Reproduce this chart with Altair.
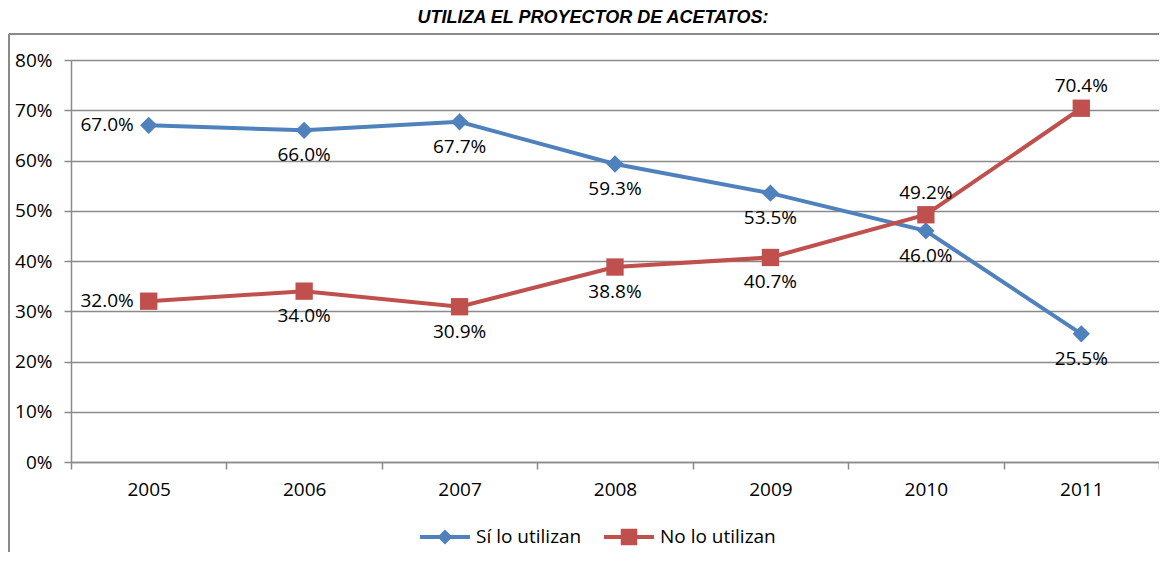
import altair as alt
import pandas as pd

years = ["2005", "2006", "2007", "2008", "2009", "2010", "2011"]
si_values = [67.0, 66.0, 67.7, 59.3, 53.5, 46.0, 25.5]
no_values = [32.0, 34.0, 30.9, 38.8, 40.7, 49.2, 70.4]
si_label_pos = ["left", "below", "below", "below", "below", "below", "below"]
no_label_pos = ["left", "below", "below", "below", "below", "above", "above"]
series_names = ["Sí lo utilizan", "No lo utilizan"]
series_colors = ["#4F81BD", "#C0504D"]
title_text = "UTILIZA EL PROYECTOR DE ACETATOS:"

rows = []
for y, v, p in zip(years, si_values, si_label_pos):
    rows.append({"year": y, "value": v / 100, "series": series_names[0], "pos": p,
                 "label": f"{v:.1f}%"})
for y, v, p in zip(years, no_values, no_label_pos):
    rows.append({"year": y, "value": v / 100, "series": series_names[1], "pos": p,
                 "label": f"{v:.1f}%"})
df = pd.DataFrame(rows)

GRAY = "#8a8a8a"
FONT = "Open Sans"
FS = 19

x_enc = alt.X("year:N", title=None, bandPosition=0.5,
              scale=alt.Scale(type="band", paddingInner=0, paddingOuter=0),
              axis=alt.Axis(labelAngle=0, tickBand="extent", tickSize=7, tickColor=GRAY,
                            tickWidth=1.5, domainColor=GRAY, domainWidth=1.5,
                            labelFont=FONT, labelFontSize=FS, labelColor="#000",
                            labelPadding=11, grid=False))
y_enc = alt.Y("value:Q", title=None,
              scale=alt.Scale(domain=[0, 0.8], nice=False),
              axis=alt.Axis(format=".0%", values=[0, 0.1, 0.2, 0.3, 0.4, 0.5, 0.6, 0.7, 0.8],
                            tickSize=7, tickColor=GRAY, tickWidth=1.5,
                            domainColor=GRAY, domainWidth=1.5,
                            gridColor=GRAY, gridWidth=1.5,
                            labelFont=FONT, labelFontSize=FS, labelColor="#000",
                            labelPadding=12))
color_scale = alt.Scale(domain=series_names, range=series_colors)

base = alt.Chart(df)

lines = base.mark_line(strokeWidth=4).encode(
    x=x_enc, y=y_enc,
    color=alt.Color("series:N", scale=color_scale, legend=None),
)
points = base.mark_point(filled=True, opacity=1, strokeWidth=0).encode(
    x=x_enc, y=y_enc,
    color=alt.Color("series:N", scale=color_scale, legend=None),
    shape=alt.Shape("series:N", scale=alt.Scale(domain=series_names, range=["diamond", "square"]),
                    legend=None),
    size=alt.Size("series:N", scale=alt.Scale(domain=series_names, range=[300, 300]), legend=None),
)

def labels(pos, **kw):
    return base.transform_filter(alt.datum.pos == pos).mark_text(
        font=FONT, fontSize=FS, color="#000", **kw
    ).encode(x=x_enc, y=y_enc, text="label:N")

lab_left = labels("left", align="right", baseline="middle", dx=-15)
lab_below = labels("below", align="center", baseline="middle", dy=25)
lab_above = labels("above", align="center", baseline="middle", dy=-22)

legend_paths = [
    "M-1,-0.08L1,-0.08L1,0.08L-1,0.08Z M0,-0.3L0.3,0L0,0.3L-0.3,0Z",
    "M-1,-0.08L1,-0.08L1,0.08L-1,0.08Z M-0.33,-0.33L0.33,-0.33L0.33,0.33L-0.33,0.33Z",
]
leg = alt.Legend(title=None, orient="none", direction="horizontal",
                 legendX=349, legendY=452, symbolSize=2500, symbolOpacity=1,
                 symbolStrokeWidth=0, labelFont=FONT, labelFontSize=FS,
                 labelColor="#000", labelOffset=6, columnPadding=22)
legend_layer = base.mark_point(filled=True, strokeWidth=0, opacity=1).encode(
    x=alt.value(-5000), y=alt.value(100),
    color=alt.Color("series:N", scale=alt.Scale(domain=series_names, range=series_colors),
                    legend=leg),
    shape=alt.Shape("series:N", scale=alt.Scale(domain=series_names, range=legend_paths),
                    legend=leg),
)

one = alt.Data(values=[{"k": 1}])
border_left = alt.Chart(one).mark_rule(color=GRAY, strokeWidth=2).encode(
    x=alt.value(-62), y=alt.value(-26), y2=alt.value(700))
border_top = alt.Chart(one).mark_rule(color=GRAY, strokeWidth=2).encode(
    x=alt.value(-62), x2=alt.value(1300), y=alt.value(-26))

chart = alt.layer(
    border_left, border_top, lines, points, lab_left, lab_below, lab_above, legend_layer
).resolve_scale(
    color="independent", shape="independent"
).properties(
    width=1088, height=402,
    autosize=alt.AutoSizeParams(type="none"),
    padding={"left": 63, "top": 52, "right": 0, "bottom": 90},
    title=alt.TitleParams(title_text, font="Liberation Sans", fontSize=18, fontWeight="bold",
                          fontStyle="italic", color="#000", anchor="middle", frame="group",
                          dx=-22, offset=6),
).configure_view(stroke=None).configure(background="white")

chart.save("out.html", embed_options={"renderer": "svg", "actions": False})
